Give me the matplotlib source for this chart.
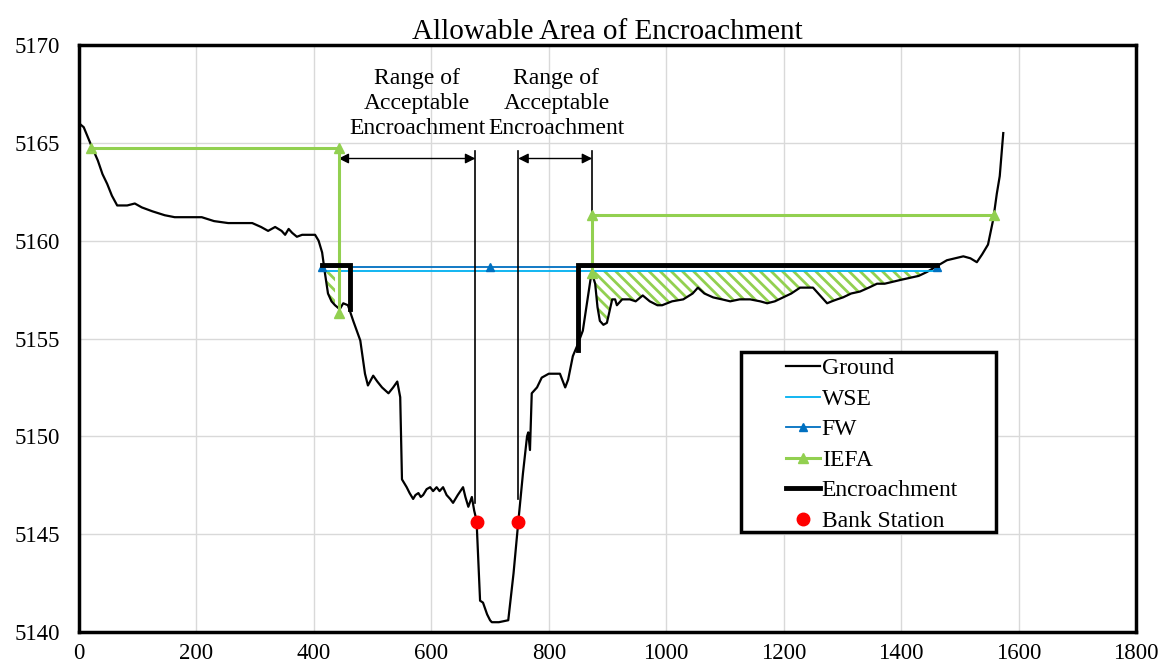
import matplotlib.pyplot as plt
import numpy as np
from matplotlib.lines import Line2D
from matplotlib.patches import Rectangle

plt.rcParams["font.family"] = ["Liberation Serif", "DejaVu Serif"]
plt.rcParams["hatch.linewidth"] = 2.0
plt.rcParams["hatch.color"] = "#92D050"

# ── Data ──────────────────────────────────────────────
ground_x = [0, 8, 19, 32, 40, 48, 56, 65, 82, 95, 107, 125, 146, 163, 185, 209, 230, 254,
            275, 295, 310, 322, 334, 345, 351, 357, 363, 371, 380, 390, 402, 408, 414, 419,
            424, 430, 436, 444, 450, 458, 467, 479, 487, 492, 501, 508, 516, 527, 535, 542,
            547, 550, 558, 563, 569, 573, 578, 582, 586, 592, 598, 603, 609, 614, 620, 626,
            632, 637, 645, 654, 658, 663, 669, 673, 677, 683, 688, 695, 700, 703, 715, 731,
            740, 748, 756, 763, 765, 768, 771, 780, 788, 800, 807, 819, 828, 833, 841, 848,
            853, 858, 865, 870, 873, 879, 883, 887, 893, 899, 908, 913, 916, 925, 938, 948,
            960, 972, 985, 993, 1010, 1029, 1045, 1054, 1065, 1080, 1095, 1109, 1125, 1143,
            1160, 1172, 1185, 1199, 1213, 1228, 1240, 1250, 1262, 1274, 1282, 1291, 1301,
            1315, 1330, 1345, 1359, 1372, 1386, 1400, 1415, 1430, 1444, 1461, 1478, 1492,
            1506, 1518, 1529, 1538, 1548, 1557, 1563, 1568, 1574]
ground_y = [5166.0, 5165.8, 5165.0, 5164.1, 5163.4, 5162.9, 5162.3, 5161.8, 5161.8, 5161.9,
            5161.7, 5161.5, 5161.3, 5161.2, 5161.2, 5161.2, 5161.0, 5160.9, 5160.9, 5160.9,
            5160.7, 5160.5, 5160.7, 5160.5, 5160.3, 5160.6, 5160.4, 5160.2, 5160.3, 5160.3,
            5160.3, 5160.0, 5159.4, 5158.3, 5157.3, 5156.9, 5156.7, 5156.5, 5156.8, 5156.7,
            5155.9, 5154.9, 5153.2, 5152.6, 5153.1, 5152.8, 5152.5, 5152.2, 5152.5, 5152.8,
            5152.0, 5147.8, 5147.4, 5147.1, 5146.8, 5147.0, 5147.1, 5146.9, 5147.0, 5147.3,
            5147.4, 5147.2, 5147.4, 5147.2, 5147.4, 5147.0, 5146.8, 5146.6, 5147.0, 5147.4,
            5146.9, 5146.4, 5146.9, 5146.2, 5145.7, 5141.6, 5141.5, 5140.9, 5140.6, 5140.5,
            5140.5, 5140.6, 5143.0, 5145.6, 5148.1, 5150.0, 5150.2, 5149.3, 5152.2, 5152.5,
            5153.0, 5153.2, 5153.2, 5153.2, 5152.5, 5152.9, 5154.1, 5154.6, 5155.0, 5155.4,
            5156.8, 5157.8, 5158.4, 5157.8, 5156.6, 5155.9, 5155.7, 5155.8, 5157.0, 5157.0,
            5156.7, 5157.0, 5157.0, 5156.9, 5157.2, 5156.9, 5156.7, 5156.7, 5156.9, 5157.0,
            5157.3, 5157.6, 5157.3, 5157.1, 5157.0, 5156.9, 5157.0, 5157.0, 5156.9, 5156.8,
            5156.9, 5157.1, 5157.3, 5157.6, 5157.6, 5157.6, 5157.2, 5156.8, 5156.9, 5157.0,
            5157.1, 5157.3, 5157.4, 5157.6, 5157.8, 5157.8, 5157.9, 5158.0, 5158.1, 5158.2,
            5158.4, 5158.7, 5159.0, 5159.1, 5159.2, 5159.1, 5158.9, 5159.3, 5159.8, 5161.1,
            5162.4, 5163.3, 5165.5]

wse_x = [414, 1461]
wse_y = [5158.45, 5158.45]

fw_x = [414, 700, 1461]
fw_y = [5158.65, 5158.65, 5158.65]

iefa_left_x = [20, 442, 442]
iefa_left_y = [5164.75, 5164.75, 5156.3]
iefa_right_x = [873, 873, 1559]
iefa_right_y = [5158.35, 5161.3, 5161.3]

encr_left_x = [414, 462, 462]
encr_left_y = [5158.75, 5158.75, 5156.5]
encr_right_x = [850, 850, 1461]
encr_right_y = [5154.4, 5158.75, 5158.75]

bank_x = [677, 748]
bank_y = [5145.6, 5145.6]

# thin vertical guide lines: (x, bottom, top)
guides = [(675, 5146.6, 5164.6), (748, 5146.8, 5164.6), (874, 5161.4, 5164.6)]
# arrows: (x_start, x_end, y)
arrows = [(442, 675, 5164.2), (748, 874, 5164.2)]
range_label = "Range of\nAcceptable\nEncroachment"
label_x = [576, 813]
label_y = 5167.0

# ── Plot ──────────────────────────────────────────────
fig = plt.figure(figsize=(11.62, 6.67), dpi=100)
ax = fig.add_axes([0.068, 0.0525, 0.9096, 0.88])

gx = np.array(ground_x, dtype=float)
gy = np.array(ground_y, dtype=float)
wse = wse_y[0]
mask = ((gx >= wse_x[0]) & (gx <= iefa_left_x[1])) | ((gx >= iefa_right_x[0]) & (gx <= wse_x[1]))
ax.fill_between(gx, gy, wse, where=mask & (gy < wse), interpolate=True,
                facecolor="none", edgecolor="#92D050", hatch="\\\\\\", linewidth=0)

ax.plot(gx, gy, color="black", lw=1.6, zorder=3)
ax.plot(wse_x, wse_y, color="#00B0F0", lw=1.3, zorder=3)
ax.plot(fw_x, fw_y, color="#0070C0", lw=1.3, marker="^", ms=6, zorder=3)
ax.plot(iefa_left_x, iefa_left_y, color="#92D050", lw=2.2, marker="^", ms=7, zorder=4)
ax.plot(iefa_right_x, iefa_right_y, color="#92D050", lw=2.2, marker="^", ms=7, zorder=4)
ax.plot(encr_left_x, encr_left_y, color="black", lw=3.5, zorder=5, solid_joinstyle="miter")
ax.plot(encr_right_x, encr_right_y, color="black", lw=3.5, zorder=5, solid_joinstyle="miter")
ax.plot(bank_x, bank_y, "o", color="red", ms=9, zorder=6, ls="none")

for x, y0, y1 in guides:
    ax.plot([x, x], [y0, y1], color="black", lw=1.2, zorder=3)
for x0, x1, y in arrows:
    ax.annotate("", xy=(x1, y), xytext=(x0, y),
                arrowprops=dict(arrowstyle="<|-|>", color="black", lw=1.0,
                                mutation_scale=15, shrinkA=0, shrinkB=0))
for x in label_x:
    ax.text(x, label_y, range_label, ha="center", va="center", fontsize=17,
            linespacing=1.24)

ax.set_xlim(0, 1800)
ax.set_ylim(5140, 5170)
ax.set_xticks(np.arange(0, 1801, 200))
ax.set_yticks(np.arange(5140, 5171, 5))
ax.grid(True, color="#d9d9d9", lw=1)
ax.set_axisbelow(True)
ax.tick_params(length=0, labelsize=16.5)
ax.tick_params(axis="y", pad=14)
ax.tick_params(axis="x", pad=8)
for s in ax.spines.values():
    s.set_linewidth(2.5)
ax.set_title("Allowable Area of Encroachment", fontsize=21, pad=3)

# legend with a custom box
ax.add_patch(Rectangle((0.626, 0.170), 0.242, 0.307, transform=ax.transAxes,
                       facecolor="white", edgecolor="black", lw=2.5, zorder=7))
handles = [
    Line2D([], [], color="black", lw=1.6),
    Line2D([], [], color="#00B0F0", lw=1.3),
    Line2D([], [], color="#0070C0", lw=1.3, marker="^", ms=6),
    Line2D([], [], color="#92D050", lw=2.2, marker="^", ms=7),
    Line2D([], [], color="black", lw=3.5),
    Line2D([], [], color="red", marker="o", ms=9, ls="none"),
]
labels = ["Ground", "WSE", "FW", "IEFA", "Encroachment", "Bank Station"]
leg = ax.legend(handles, labels, loc="upper left", bbox_to_anchor=(0.664, 0.475),
                frameon=False, fontsize=17, handlelength=1.45, handletextpad=0.08,
                labelspacing=0.38, borderaxespad=0, borderpad=0.2)
leg.set_zorder(8)

fig.savefig("out.png", dpi=100)
